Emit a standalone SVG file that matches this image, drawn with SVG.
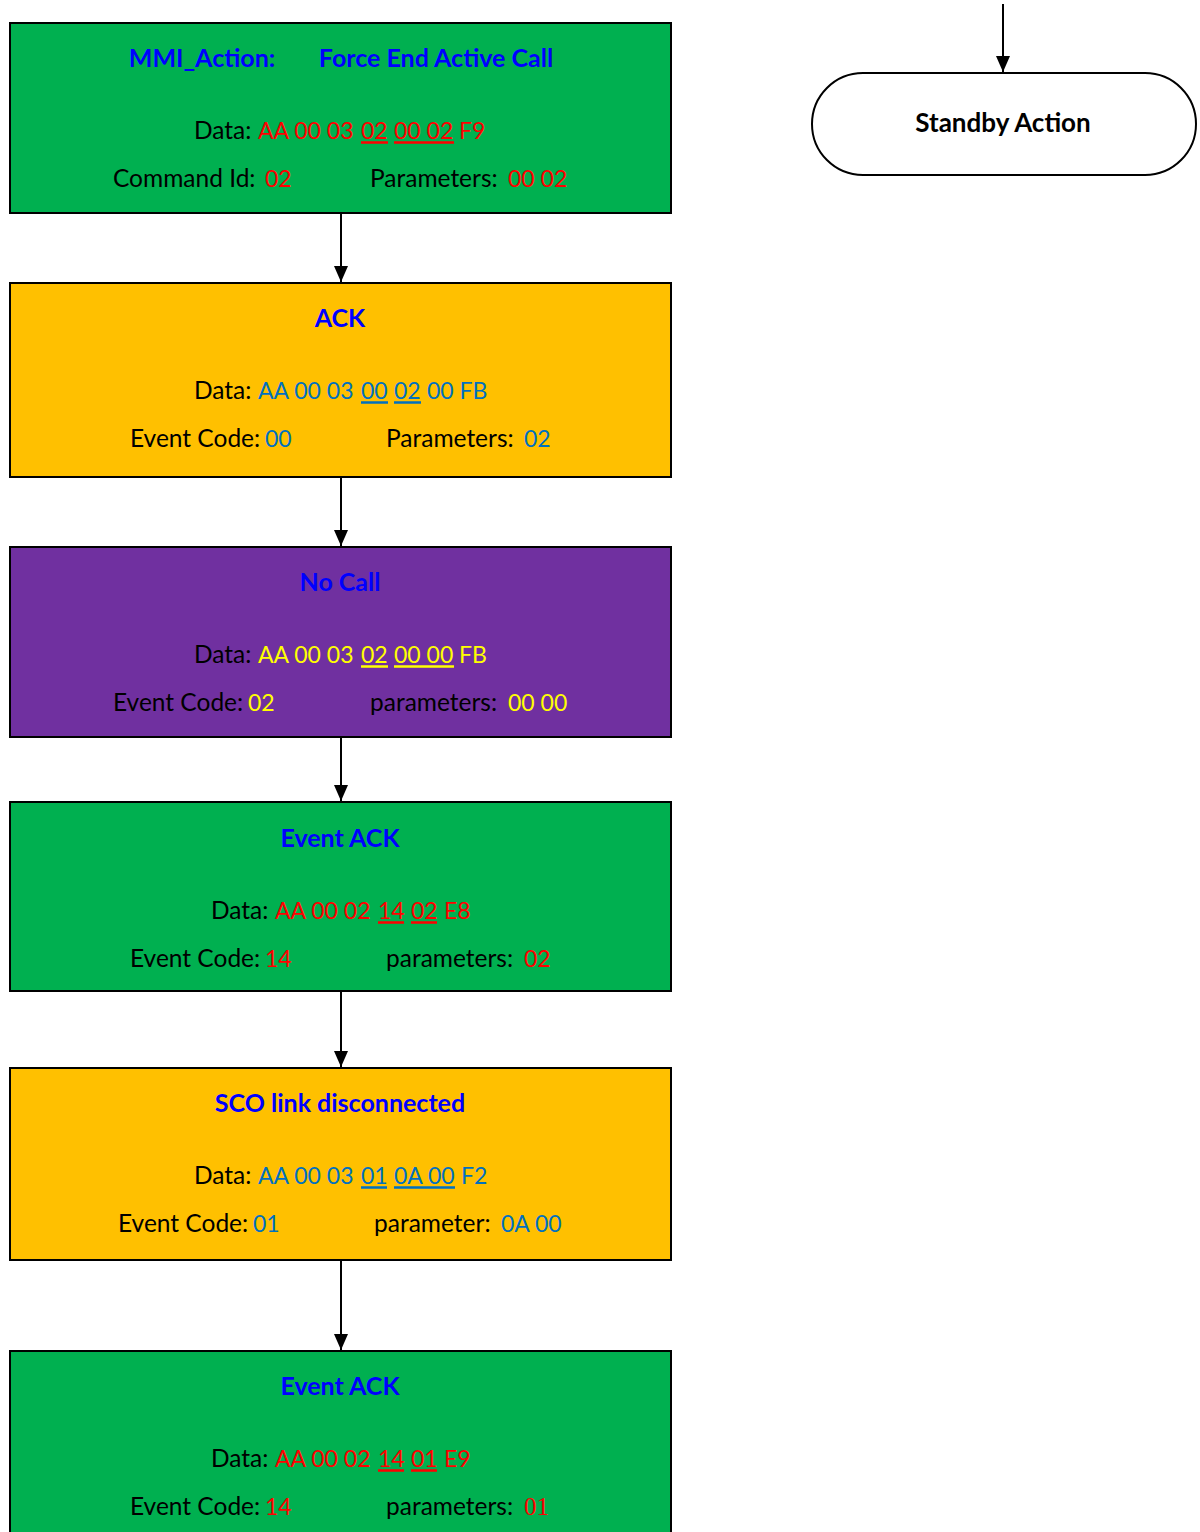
<svg xmlns="http://www.w3.org/2000/svg" width="1200" height="1532" viewBox="0 0 1200 1532">
<style>
.box{stroke:#000;stroke-width:2}
.g{fill:#00B050}.o{fill:#FFC000}.p{fill:#7030A0}
text{font-family:Lato,"Liberation Sans",sans-serif;font-size:24.5px;fill:#000}
.t{font-weight:bold;fill:#0000FF;text-anchor:middle;font-size:25px}
.r,.b,.y{font-size:23px}
.r{fill:#FF0000}.b{fill:#0070C0}.y{fill:#FFFF00}
.ur{stroke:#FF0000;stroke-width:2.5}.ub{stroke:#0070C0;stroke-width:2.5}.uy{stroke:#FFFF00;stroke-width:2.5}
.c{stroke:#000;stroke-width:2;fill:none;marker-end:url(#ah)}
</style>
<defs>
<marker id="ah" markerWidth="16" markerHeight="14" refX="16" refY="7" orient="auto" markerUnits="userSpaceOnUse" viewBox="0 0 16 14"><path d="M0,0 L16,7 L0,14 z" fill="#000"/></marker>
</defs>
<rect width="1200" height="1532" fill="#fff"/>
<g id="connectors">
<line class="c" x1="341" y1="214" x2="341" y2="282"/>
<line class="c" x1="341" y1="478" x2="341" y2="546"/>
<line class="c" x1="341" y1="738" x2="341" y2="801"/>
<line class="c" x1="341" y1="992" x2="341" y2="1067"/>
<line class="c" x1="341" y1="1261" x2="341" y2="1350"/>
<line class="c" x1="1003" y1="4" x2="1003" y2="72"/>
</g>
<g id="n1">
<rect class="box g" x="10" y="23" width="661" height="190"/>
<text x="202" y="67" class="t">MMI_Action:</text>
<text x="436" y="67" class="t">Force End Active Call</text>
<text y="139"><tspan x="194">Data: </tspan><tspan x="258" class="r">AA 00 03 </tspan><tspan x="361" class="r">02</tspan><tspan x="394" class="r">00 02</tspan><tspan x="459" class="r">F9</tspan></text>
<line class="ur" x1="361" y1="142.5" x2="388" y2="142.5"/><line class="ur" x1="394" y1="142.5" x2="454" y2="142.5"/>
<text y="187"><tspan x="113">Command Id: </tspan><tspan x="265" class="r">02</tspan><tspan x="370">Parameters: </tspan><tspan x="508" class="r">00 02</tspan></text>
</g>
<g id="n2">
<rect class="box o" x="10" y="283" width="661" height="194"/>
<text x="340" y="327" class="t">ACK</text>
<text y="399"><tspan x="194">Data: </tspan><tspan x="258" class="b">AA 00 03 </tspan><tspan x="361" class="b">00</tspan><tspan x="394" class="b">02</tspan><tspan x="427" class="b">00 FB</tspan></text>
<line class="ub" x1="361" y1="402.5" x2="388" y2="402.5"/><line class="ub" x1="394" y1="402.5" x2="421" y2="402.5"/>
<text y="447"><tspan x="130">Event Code: </tspan><tspan x="265" class="b">00</tspan><tspan x="386">Parameters: </tspan><tspan x="524" class="b">02</tspan></text>
</g>
<g id="n3">
<rect class="box p" x="10" y="547" width="661" height="190"/>
<text x="340" y="591" class="t">No Call</text>
<text y="663"><tspan x="194">Data: </tspan><tspan x="258" class="y">AA 00 03 </tspan><tspan x="361" class="y">02</tspan><tspan x="394" class="y">00 00</tspan><tspan x="459" class="y">FB</tspan></text>
<line class="uy" x1="361" y1="666.5" x2="388" y2="666.5"/><line class="uy" x1="394" y1="666.5" x2="454" y2="666.5"/>
<text y="711"><tspan x="113">Event Code: </tspan><tspan x="248" class="y">02</tspan><tspan x="370">parameters: </tspan><tspan x="508" class="y">00 00</tspan></text>
</g>
<g id="n4">
<rect class="box g" x="10" y="802" width="661" height="189"/>
<text x="340" y="847" class="t">Event ACK</text>
<text y="919"><tspan x="211">Data: </tspan><tspan x="275" class="r">AA 00 02 </tspan><tspan x="378" class="r">14</tspan><tspan x="411" class="r">02</tspan><tspan x="444" class="r">E8</tspan></text>
<line class="ur" x1="378" y1="922.5" x2="404" y2="922.5"/><line class="ur" x1="411" y1="922.5" x2="437" y2="922.5"/>
<text y="967"><tspan x="130">Event Code: </tspan><tspan x="265" class="r">14</tspan><tspan x="386">parameters: </tspan><tspan x="524" class="r">02</tspan></text>
</g>
<g id="n5">
<rect class="box o" x="10" y="1068" width="661" height="192"/>
<text x="340" y="1112" class="t">SCO link disconnected</text>
<text y="1184"><tspan x="194">Data: </tspan><tspan x="258" class="b">AA 00 03 </tspan><tspan x="361" class="b">01</tspan><tspan x="394" class="b">0A 00</tspan><tspan x="461" class="b">F2</tspan></text>
<line class="ub" x1="361" y1="1187.5" x2="387" y2="1187.5"/><line class="ub" x1="394" y1="1187.5" x2="455" y2="1187.5"/>
<text y="1232"><tspan x="118">Event Code: </tspan><tspan x="253" class="b">01</tspan><tspan x="374">parameter: </tspan><tspan x="501" class="b">0A 00</tspan></text>
</g>
<g id="n6">
<rect class="box g" x="10" y="1351" width="661" height="200"/>
<text x="340" y="1395" class="t">Event ACK</text>
<text y="1467"><tspan x="211">Data: </tspan><tspan x="275" class="r">AA 00 02 </tspan><tspan x="378" class="r">14</tspan><tspan x="411" class="r">01</tspan><tspan x="444" class="r">E9</tspan></text>
<line class="ur" x1="378" y1="1470.5" x2="404" y2="1470.5"/><line class="ur" x1="411" y1="1470.5" x2="437" y2="1470.5"/>
<text y="1515"><tspan x="130">Event Code: </tspan><tspan x="265" class="r">14</tspan><tspan x="386">parameters: </tspan><tspan x="524" class="r" style="font-family:'Liberation Serif',serif;font-size:25px">01</tspan></text>
</g>
<g id="standby">
<rect x="812" y="73" width="384" height="102" rx="51" ry="51" fill="#fff" stroke="#000" stroke-width="2"/>
<text x="1003" y="132" class="t" style="fill:#000;font-size:26px">Standby Action</text>
</g>
</svg>
